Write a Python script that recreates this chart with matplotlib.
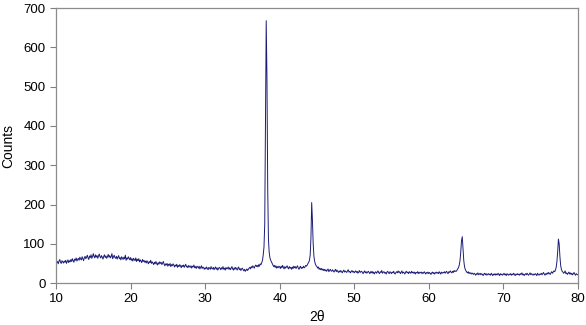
import numpy as np
import matplotlib
matplotlib.use("Agg")
import matplotlib.pyplot as plt

# 2theta de 10 a 80 com passo 0.1 (uma linha = um grau)
two_theta = np.round(np.arange(10.0, 80.05, 0.1), 1)

counts = [
    58, 52, 55, 49, 56, 60, 53, 50, 57, 54,   # 10
    51, 56, 53, 58, 50, 55, 59, 52, 57, 54,   # 11
    60, 55, 62, 57, 53, 61, 58, 64, 56, 60,   # 12
    63, 58, 66, 61, 59, 67, 62, 57, 65, 68,   # 13
    62, 66, 71, 64, 60, 69, 65, 72, 63, 67,   # 14
    75, 68, 64, 72, 66, 70, 63, 69, 74, 67,   # 15
    64, 70, 66, 61, 68, 72, 65, 69, 63, 67,   # 16
    73, 66, 70, 64, 68, 75, 62, 67, 71, 65,   # 17
    63, 68, 61, 66, 70, 62, 65, 59, 67, 64,   # 18
    60, 66, 62, 71, 58, 64, 61, 67, 63, 59,   # 19
    65, 58, 62, 56, 63, 60, 57, 64, 55, 61,   # 20
    57, 62, 54, 59, 56, 52, 60, 55, 58, 53,   # 21
    56, 51, 57, 53, 49, 55, 52, 58, 50, 54,   # 22
    51, 47, 53, 49, 55, 50, 46, 52, 48, 54,   # 23
    50, 53, 47, 51, 55, 48, 44, 49, 46, 50,   # 24
    43, 48, 45, 50, 42, 47, 44, 49, 46, 41,   # 25
    46, 43, 48, 40, 45, 42, 47, 44, 39, 45,   # 26
    42, 46, 40, 44, 48, 41, 43, 39, 45, 42,   # 27
    40, 44, 38, 43, 41, 46, 39, 42, 37, 43,   # 28
    41, 38, 43, 36, 40, 44, 37, 41, 39, 35,   # 29
    39, 36, 41, 37, 34, 40, 38, 35, 42, 37,   # 30
    36, 40, 34, 38, 41, 35, 39, 33, 37, 40,   # 31
    38, 34, 39, 36, 42, 35, 38, 33, 40, 36,   # 32
    37, 41, 35, 39, 34, 38, 42, 36, 33, 39,   # 33
    35, 40, 37, 33, 38, 41, 34, 37, 32, 36,   # 34
    38, 34, 31, 35, 30, 33, 36, 32, 35, 38,   # 35
    40, 36, 42, 39, 44, 41, 38, 43, 46, 42,   # 36
    45, 41, 47, 43, 49, 47, 52, 58, 72, 92,   # 37
    150, 420, 668, 520, 240, 110, 78, 64, 58, 54,   # 38
    50, 46, 42, 45, 40, 44, 38, 42, 39, 43,   # 39
    41, 37, 43, 39, 45, 40, 36, 42, 38, 41,   # 40
    44, 39, 36, 42, 38, 40, 35, 41, 37, 43,   # 41
    39, 42, 37, 41, 44, 38, 35, 40, 43, 37,   # 42
    40, 38, 43, 39, 41, 45, 43, 46, 50, 53,   # 43
    58, 72, 115, 205, 160, 100, 68, 55, 48, 44,   # 44
    42, 38, 41, 35, 38, 34, 37, 33, 36, 32,   # 45
    35, 31, 34, 30, 33, 36, 29, 32, 35, 31,   # 46
    30, 34, 31, 28, 32, 35, 29, 33, 30, 27,   # 47
    31, 28, 32, 29, 26, 30, 33, 28, 31, 29,   # 48
    27, 31, 34, 28, 30, 26, 29, 32, 28, 30,   # 49
    26, 29, 31, 27, 30, 25, 28, 32, 27, 29,   # 50
    30, 27, 24, 28, 31, 26, 29, 25, 28, 30,   # 51
    27, 24, 29, 26, 30, 25, 28, 23, 27, 29,   # 52
    25, 28, 31, 26, 24, 29, 27, 32, 25, 28,   # 53
    29, 25, 27, 23, 28, 30, 26, 24, 29, 27,   # 54
    24, 28, 26, 30, 25, 23, 27, 29, 26, 31,   # 55
    27, 29, 24, 27, 31, 25, 28, 26, 23, 28,   # 56
    30, 26, 28, 24, 29, 27, 25, 30, 26, 28,   # 57
    25, 28, 23, 27, 26, 29, 24, 28, 25, 27,   # 58
    28, 24, 27, 25, 29, 26, 23, 27, 25, 28,   # 59
    24, 27, 25, 22, 26, 28, 24, 27, 23, 26,   # 60
    28, 25, 27, 24, 29, 26, 23, 28, 25, 27,   # 61
    26, 29, 25, 28, 30, 26, 24, 29, 27, 31,   # 62
    28, 26, 30, 27, 32, 29, 31, 30, 33, 36,   # 63
    40, 46, 58, 80, 108, 118, 88, 58, 42, 35,   # 64
    31, 28, 26, 29, 24, 27, 25, 23, 26, 24,   # 65
    22, 25, 23, 20, 24, 22, 26, 21, 23, 25,   # 66
    21, 24, 22, 19, 23, 25, 21, 24, 20, 22,   # 67
    24, 21, 23, 20, 25, 22, 19, 23, 21, 24,   # 68
    20, 23, 21, 25, 22, 19, 24, 21, 23, 20,   # 69
    22, 25, 21, 23, 19, 24, 22, 20, 23, 21,   # 70
    24, 20, 23, 21, 25, 22, 19, 23, 21, 24,   # 71
    21, 23, 20, 24, 22, 26, 21, 23, 19, 22,   # 72
    24, 21, 25, 22, 20, 23, 26, 21, 24, 22,   # 73
    20, 23, 21, 24, 22, 19, 25, 22, 20, 23,   # 74
    22, 25, 21, 24, 27, 23, 20, 24, 22, 26,   # 75
    23, 27, 24, 22, 26, 29, 25, 28, 31, 29,   # 76
    33, 40, 55, 80, 112, 100, 68, 45, 35, 30,   # 77
    28, 25, 27, 31, 24, 26, 22, 25, 28, 23,   # 78
    26, 22, 25, 21, 24, 27, 23, 20, 24, 22,   # 79
    21,                                       # 80
]

x_ticks = [10, 20, 30, 40, 50, 60, 70, 80]
y_ticks = [0, 100, 200, 300, 400, 500, 600, 700]

plt.rcParams["font.family"] = ["Liberation Sans", "DejaVu Sans"]

fig = plt.figure(figsize=(5.86, 3.25), dpi=100)
ax = fig.add_axes([0.0956, 0.129, 0.8904, 0.846])

ax.plot(two_theta, counts, color="#1c1c78", linewidth=0.7)

ax.set_xlim(10, 80)
ax.set_ylim(0, 700)
ax.set_xticks(x_ticks)
ax.set_yticks(y_ticks)
ax.tick_params(direction="out", length=4, width=0.8, color="#808080",
               labelsize=9.5, labelcolor="black")
for s in ax.spines.values():
    s.set_color("#8c8c8c")
    s.set_linewidth(0.9)

ax.set_xlabel("2θ", fontsize=10, labelpad=3)
ax.set_ylabel("Counts", fontsize=10, labelpad=6)

fig.savefig("out.png", dpi=100)
